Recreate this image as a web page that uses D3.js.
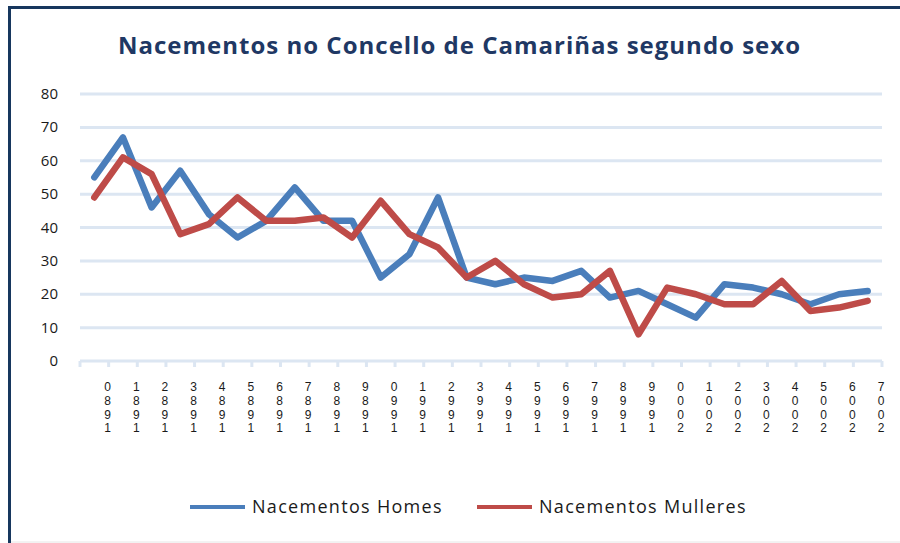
<!DOCTYPE html>
<html>
<head>
<meta charset="utf-8">
<script src="https://cdn.jsdelivr.net/npm/d3@7"></script>
<style>
    body { margin: 0; background: #fff; }
    svg { display: block; }
</style>
</head>
<body>
<div id="chart"></div>
<script>
// Data
const years = ["1980", "1981", "1982", "1983", "1984", "1985", "1986", "1987", "1988", "1989",
    "1990", "1991", "1992", "1993", "1994", "1995", "1996", "1997", "1998", "1999",
    "2000", "2001", "2002", "2003", "2004", "2005", "2006", "2007"];
const homes = [55, 67, 46, 57, 44, 37, 42, 52, 42, 42,
    25, 32, 49, 25, 23, 25, 24, 27, 19, 21,
    17, 13, 23, 22, 20, 17, 20, 21];
const mulleres = [49, 61, 56, 38, 41, 49, 42, 42, 43, 37,
    48, 38, 34, 25, 30, 23, 19, 20, 27, 8,
    22, 20, 17, 17, 24, 15, 16, 18];
const yTicks = [0, 10, 20, 30, 40, 50, 60, 70, 80];

const W = 900, H = 543;
const plot = { left: 80, right: 882, top: 94, bottom: 361 };

const svg = d3.select("#chart").append("svg")
    .attr("width", W)
    .attr("height", H);

// Frame: navy on the left and top, light grey at the bottom
svg.append("line").attr("x1", 9.5).attr("x2", W).attr("y1", 7.5).attr("y2", 7.5)
    .attr("stroke", "#17375e").attr("stroke-width", 3);
svg.append("line").attr("x1", 9.5).attr("x2", 9.5).attr("y1", 6).attr("y2", H)
    .attr("stroke", "#17375e").attr("stroke-width", 3);
svg.append("line").attr("x1", 11).attr("x2", W).attr("y1", 542).attr("y2", 542)
    .attr("stroke", "#e6e6e6").attr("stroke-width", 1);

// Title
svg.append("text")
    .attr("x", 118)
    .attr("y", 54)
    .attr("font-family", "'Open Sans', sans-serif")
    .attr("font-weight", "bold")
    .attr("font-size", 24)
    .attr("textLength", 682)
    .attr("lengthAdjust", "spacing")
    .attr("fill", "#1f3864")
    .text("Nacementos no Concello de Camariñas segundo sexo");

// Scales
const x = d3.scaleBand().domain(years).range([plot.left, plot.right]);
const y = d3.scaleLinear().domain([0, 80]).range([plot.bottom, plot.top]);

// Gridlines
svg.append("g")
    .selectAll("line")
    .data(yTicks)
    .join("line")
    .attr("x1", plot.left)
    .attr("x2", plot.right)
    .attr("y1", d => y(d))
    .attr("y2", d => y(d))
    .attr("stroke", "#dce6f2")
    .attr("stroke-width", 3);

// Category tick marks between categories
const tickPos = years.map(d => x(d)).concat([plot.right]);
svg.append("g")
    .selectAll("line")
    .data(tickPos)
    .join("line")
    .attr("x1", d => d)
    .attr("x2", d => d)
    .attr("y1", plot.bottom)
    .attr("y2", plot.bottom + 6)
    .attr("stroke", "#dce6f2")
    .attr("stroke-width", 3);

// Y axis labels
svg.append("g")
    .selectAll("text")
    .data(yTicks)
    .join("text")
    .attr("x", 58)
    .attr("y", d => y(d) + 5)
    .attr("text-anchor", "end")
    .attr("font-family", "'Open Sans', sans-serif")
    .attr("font-size", 15)
    .attr("fill", "#1a1a1a")
    .text(d => d);

// X axis labels: the year digits stacked in reverse order
const xLab = svg.append("g")
    .selectAll("text")
    .data(years)
    .join("text")
    .attr("text-anchor", "middle")
    .attr("font-family", "'Liberation Sans', sans-serif")
    .attr("font-size", 12)
    .attr("fill", "#1a1a1a");
xLab.selectAll("tspan")
    .data(d => d.split("").reverse().map(c => ({ c, year: d })))
    .join("tspan")
    .attr("x", d => x(d.year) + x.bandwidth() - 1)
    .attr("y", (d, i) => 391 + i * 13.8)
    .text(d => d.c);

// Lines
const line = d3.line()
    .x((d, i) => x(years[i]) + x.bandwidth() / 2)
    .y(d => y(d));

const series = [
    { name: "Nacementos Homes", values: homes, color: "#4a7ebb" },
    { name: "Nacementos Mulleres", values: mulleres, color: "#be4b48" }
];

svg.append("g")
    .selectAll("path")
    .data(series)
    .join("path")
    .attr("d", d => line(d.values))
    .attr("fill", "none")
    .attr("stroke", d => d.color)
    .attr("stroke-width", 6.5)
    .attr("stroke-linejoin", "round")
    .attr("stroke-linecap", "round");

// Legend
const legendX = [190, 477];
const legend = svg.append("g")
    .selectAll("g")
    .data(series)
    .join("g")
    .attr("transform", (d, i) => `translate(${legendX[i]},507)`);
legend.append("line")
    .attr("x1", 0)
    .attr("x2", 55)
    .attr("stroke", d => d.color)
    .attr("stroke-width", 4);
legend.append("text")
    .attr("x", 62)
    .attr("y", 6)
    .attr("font-family", "'Open Sans', sans-serif")
    .attr("font-size", 18)
    .attr("letter-spacing", 1.3)
    .attr("fill", "#1a1a1a")
    .text(d => d.name);
</script>
</body>
</html>
